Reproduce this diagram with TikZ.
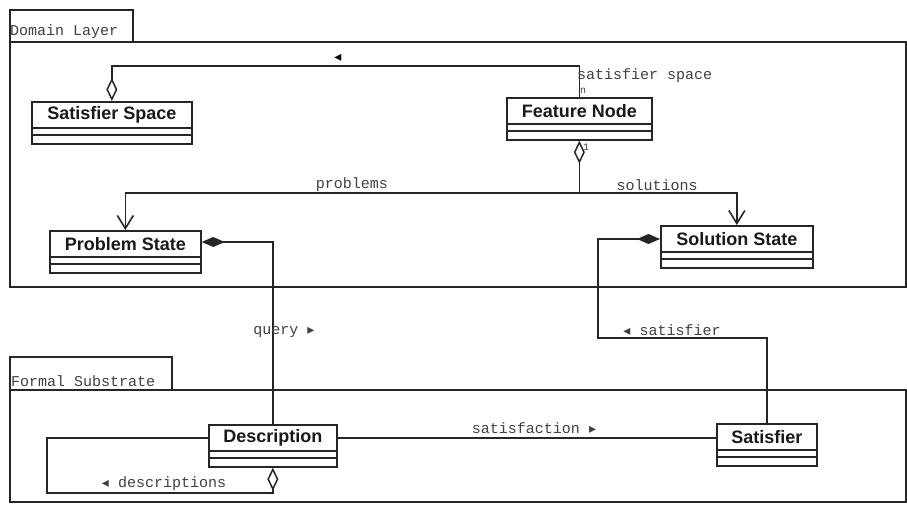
\documentclass[tikz,border=0pt]{standalone}
\usepackage{fontspec}
\setmainfont{Liberation Sans}
\newfontfamily\monof{Liberation Mono}
\newfontfamily\dvf{DejaVu Sans}
\usetikzlibrary{arrows.meta}
\tikzset{
 lw/.style={line width=1.7pt, draw=black!85},
 conn/.style={line width=1.7pt, draw=black!85},
 lbl/.style={font=\monof\fontsize{15}{17}\selectfont, text=black!75, inner sep=0pt},
 mult/.style={font=\monof\fontsize{10}{11}\selectfont, text=black!75, inner sep=0pt},
 clsname/.style={font=\fontsize{18}{21}\selectfont\bfseries, text=black!90, inner sep=0pt},
 agg/.style={{Diamond[open,length=23pt,width=11pt,line width=1.5pt]}-},
 comp/.style={{Diamond[length=23pt,width=10pt]}-},
 nav/.style={-{Straight Barb[length=13pt,width=16pt,line width=1.6pt]}},
}
\newcommand\dtri[1]{{\dvf\fontsize{14}{15}\selectfont #1}}
\newcommand\umlcls[5]{%
 \node[lw, draw, minimum width=#4pt, minimum height=42pt, inner sep=0pt, anchor=north west] (#1) at (#2,#3) {};
 \node[clsname] (#1-n) at ([yshift=-14pt]#1.north) {#5};
 \draw[lw] ([yshift=-27pt]#1.north west) -- ([yshift=-27pt]#1.north east);
 \draw[lw] ([yshift=-34pt]#1.north west) -- ([yshift=-34pt]#1.north east);
}
\begin{document}
\begin{tikzpicture}[x=1pt,y=-1pt]
\useasboundingbox[fill=white] (0,0) rectangle (907,504);
% packages
\draw[lw] (10,42) -- (10,10) -- (133,10) -- (133,42);
\draw[lw] (10,42) rectangle (906,287);
\node[lbl, anchor=west] (pk1) at (10,32) {Domain Layer};
\draw[lw] (10,390) -- (10,357) -- (172,357) -- (172,390);
\draw[lw] (10,390) rectangle (906,502);
\node[lbl, anchor=west] (pk2) at (11,381) {Formal Substrate};
% classes
\umlcls{ss}{31}{101}{160}{Satisfier Space}
\umlcls{fn}{506}{97}{145}{Feature Node}
\umlcls{ps}{49}{230}{151}{Problem State}
\umlcls{sol}{660}{225}{152}{Solution State}
\umlcls{desc}{208}{424}{128}{Description}
\umlcls{sat}{716}{423}{100}{Satisfier}
% satisfier space
\coordinate (r1) at (0,66);
\draw[conn,agg] (ss.north) -- (ss.north |- r1) -| (fn.north);
\node[inner sep=0pt] (t1) at (338,58) {\dtri{◂}};
\node[lbl, anchor=west] (l1) at (577,76) {satisfier space};
\node[mult] (m1) at (583,91) {n};
% problems / solutions
\coordinate (r2) at (0,193);
\draw[conn,agg] (fn.south) -- (fn.south |- r2) coordinate (j);
\draw[conn,nav] (j) -| (ps.north);
\draw[conn,nav] (j) -| (sol.north);
\node[mult] (m2) at (586,147) {1};
\node[lbl] (l2) at (352,185) {problems};
\node[lbl] (l3) at (657,185) {solutions};
% query
\coordinate (psr) at ([yshift=-12pt]ps.north east);
\draw[conn,comp] (psr) -| (desc.north);
\node[lbl] (l4) at (284,332) {query \dtri{▸}};
% satisfier
\coordinate (solr) at ([yshift=-14pt]sol.north west);
\coordinate (r3) at (598,338);
\draw[conn,comp] (solr) -- (solr -| r3) -- (r3) -| (sat.north);
\node[lbl] (l5) at (672,330) {\dtri{◂} satisfier};
% satisfaction
\coordinate (de) at ([yshift=-14pt]desc.north east);
\draw[conn] (de) -- (de -| sat.west);
\node[lbl] (l6) at (534,428) {satisfaction \dtri{▸}};
% descriptions
\coordinate (dw) at ([yshift=-14pt]desc.north west);
\coordinate (lp) at (47,493);
\draw[conn,agg] (desc.south) -- (desc.south |- lp) -- (lp) |- (dw);
\node[lbl] (l7) at (164,484) {\dtri{◂} descriptions};
\end{tikzpicture}
\end{document}
